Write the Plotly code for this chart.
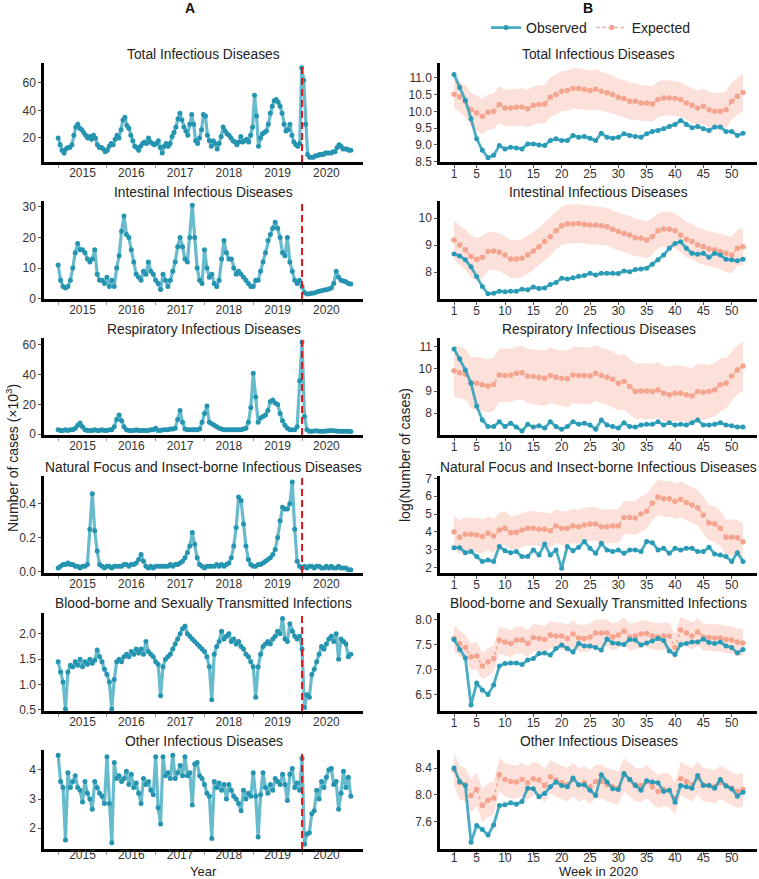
import numpy as np
import plotly.graph_objects as go

# ---------------- DATA ----------------
panel_titles = ["Total Infectious Diseases", "Intestinal Infectious Diseases",
                "Respiratory Infectious Diseases", "Natural Focus and Insect-borne Infectious Diseases",
                "Blood-borne and Sexually Transmitted Infections", "Other Infectious Diseases"]

year_labels = [2015, 2016, 2017, 2018, 2019, 2020]
series_start, series_end = 2014.5, 2020.5
intervention = 2019.5

# Panel A: number of cases (x10^3), evenly spaced through the period
total_cases = [20, 15, 11, 9, 12, 13, 13, 15, 22, 28,
               30, 27, 26, 24, 22, 20, 21, 19, 22, 20,
               15, 13, 13, 12, 10, 11, 14, 16, 15, 19,
               22, 20, 26, 33, 35, 29, 27, 22, 18, 14,
               13, 11, 14, 16, 17, 16, 20, 17, 16, 15,
               16, 18, 13, 9, 14, 16, 14, 16, 21, 24,
               28, 34, 38, 33, 28, 25, 22, 30, 37, 30,
               18, 16, 20, 26, 37, 36, 22, 18, 14, 18,
               16, 12, 16, 21, 28, 25, 23, 22, 20, 18,
               17, 15, 17, 21, 17, 18, 19, 17, 22, 28,
               51, 36, 14, 20, 23, 24, 25, 30, 38, 43,
               47, 48, 46, 43, 38, 30, 25, 26, 30, 22,
               17, 15, 14, 16, 71, 62, 30, 8, 6, 6,
               6, 7, 7, 8, 8, 8, 9, 9, 9, 9,
               10, 10, 13, 15, 14, 12, 12, 12, 11, 11]
intestinal_cases = [11, 6, 4, 3.5, 4, 6, 10, 15, 18, 16,
                    16, 15, 13, 12, 13, 16, 8, 6, 6, 5,
                    7, 4, 6, 4, 10, 14, 22, 27, 21, 20,
                    16, 12, 8, 7, 6, 9, 8, 12, 9, 8,
                    6, 5, 3, 8, 6, 4, 6, 9, 12, 17,
                    20, 17, 13, 12, 20, 30.5, 20, 10, 6, 5,
                    16, 10, 7, 8, 5, 4, 6, 13, 19, 15,
                    13, 13, 10, 8, 9, 8, 7, 6, 5, 4,
                    4, 6, 6, 9, 12, 15, 19, 21, 23, 25,
                    23, 20, 15, 14, 20, 12, 9, 6, 5, 6,
                    4, 2, 1.5, 1.6, 1.8, 1.9, 2.2, 2.4, 2.6, 2.8,
                    2.9, 3.2, 3.5, 5, 9, 7, 6, 5.8, 5.5, 5,
                    4.8]
respiratory_cases = [3, 2.5, 2.5, 3, 2.5, 3, 3, 4, 6, 7.5,
                     5, 3, 2.5, 2.5, 2.5, 3, 2.5, 2.5, 3, 2.5,
                     2.5, 3, 3, 5, 10, 13, 9, 5, 3, 2.5,
                     2.5, 2.5, 3, 2.5, 2.5, 2.5, 2.5, 2.5, 3, 3,
                     4, 2.5, 2.5, 3, 3, 3, 3.5, 3.5, 4, 10,
                     16, 8, 3.5, 3, 3, 3, 3, 3, 3.5, 8,
                     14, 19, 8, 7, 6, 5, 4, 3.5, 3, 3,
                     3, 3, 3, 3, 3, 3, 3.5, 4, 8, 18,
                     41, 25, 8, 11, 12, 13, 16, 22, 23, 21,
                     20, 14, 9, 6, 4, 3, 3, 3, 5, 36,
                     62, 12, 3, 2, 2, 2.2, 2.3, 2, 2.1, 2,
                     2.2, 2.4, 2.5, 2.3, 2.2, 2.1, 2, 2, 2.1, 2,
                     1.8]
natural_cases = [0.02, 0.03, 0.04, 0.04, 0.05, 0.04, 0.04, 0.03, 0.03, 0.02,
                 0.03, 0.03, 0.04, 0.25, 0.46, 0.24, 0.12, 0.04, 0.03, 0.02,
                 0.03, 0.03, 0.02, 0.03, 0.03, 0.03, 0.03, 0.04, 0.04, 0.03,
                 0.04, 0.04, 0.05, 0.07, 0.10, 0.06, 0.03, 0.02, 0.03, 0.02,
                 0.03, 0.03, 0.03, 0.03, 0.03, 0.03, 0.04, 0.03, 0.04, 0.04,
                 0.05, 0.06, 0.08, 0.11, 0.15, 0.23, 0.16, 0.08, 0.04, 0.03,
                 0.02, 0.03, 0.03, 0.03, 0.03, 0.04, 0.03, 0.04, 0.03, 0.04,
                 0.05, 0.08, 0.15, 0.26, 0.44, 0.42, 0.28, 0.15, 0.07, 0.04,
                 0.03, 0.03, 0.04, 0.04, 0.05, 0.06, 0.07, 0.08, 0.10, 0.13,
                 0.20, 0.30, 0.38, 0.37, 0.37, 0.40, 0.53, 0.25, 0.06, 0.03,
                 0.02, 0.03, 0.02, 0.03, 0.03, 0.02, 0.03, 0.03, 0.02, 0.02,
                 0.03, 0.02, 0.03, 0.02, 0.02, 0.03, 0.02, 0.02, 0.02, 0.01,
                 0.01]
blood_cases = [1.45, 1.25, 1.05, 0.52, 1.25, 1.38, 1.35, 1.45, 1.38, 1.5,
               1.35, 1.45, 1.4, 1.5, 1.42, 1.48, 1.68, 1.55, 1.45, 1.3,
               1.2, 1.05, 0.52, 1.1, 1.45, 1.5, 1.45, 1.55, 1.6, 1.55,
               1.65, 1.6, 1.7, 1.62, 1.7, 1.6, 1.85, 1.65, 1.6, 1.55,
               1.45, 1.4, 0.78, 1.35, 1.5, 1.55, 1.6, 1.7, 1.8, 1.9,
               2.0, 2.1, 2.15, 2.0, 1.95, 1.9, 1.85, 1.8, 1.75, 1.7,
               1.65, 1.55, 1.35, 0.7, 1.6, 1.75, 1.85, 2.05, 1.9, 1.95,
               2.0, 1.85, 1.9, 1.8, 1.85, 1.75, 1.7, 1.6, 1.55, 1.45,
               1.35, 0.75, 1.35, 1.6, 1.75, 1.8, 1.85, 1.8, 1.9, 1.95,
               2.05, 2.0, 2.3, 1.9, 1.85, 2.2, 2.05, 1.95, 1.9, 1.95,
               1.7, 0.55, 0.8, 0.75, 1.2, 1.3, 1.45, 1.6, 1.75, 1.7,
               1.8, 1.9, 1.95, 1.85, 2.0, 1.5, 1.9, 1.85, 1.8, 1.55,
               1.6]
other_cases = [4.5, 3.6, 3.4, 1.6, 3.9, 3.4, 3.6, 3.8, 3.4, 3.3,
               2.9, 3.6, 3.2, 3.0, 2.65, 3.6, 3.4, 3.2, 3.1, 2.85,
               4.45, 2.85, 1.5, 4.25, 3.7, 3.8, 3.6, 3.7, 3.95, 3.5,
               3.85, 3.4, 3.55, 3.2, 2.85, 3.7, 3.5, 3.6, 3.3, 3.15,
               4.45, 2.7, 2.15, 4.45, 3.8, 3.9, 3.7, 4.5, 3.7, 3.9,
               4.15, 3.8, 4.45, 3.8, 3.9, 2.8, 4.2, 4.25, 3.8, 3.7,
               3.5, 3.2, 3.1, 1.65, 3.6, 3.4, 3.55, 3.3, 3.5, 3.0,
               3.5, 3.3, 3.1, 3.0, 2.85, 2.6, 3.3, 3.0, 3.2, 3.1,
               3.9, 3.1, 1.7, 3.15, 3.9, 3.4, 3.2, 3.5, 3.3, 3.7,
               3.6, 3.5, 3.85, 3.5, 2.95, 3.85, 4.05, 3.4, 3.55, 3.3,
               4.4, 1.45, 1.8, 1.85, 2.5, 2.6, 3.3, 3.0, 3.6, 3.4,
               3.75, 4.0, 4.05, 3.5, 3.6, 2.65, 3.2, 3.95, 3.4, 3.75,
               3.1]

# Panel B: log(number of cases) by week in 2020
weeks = list(range(1, 53))
total_obs = [11.1, 10.71, 10.33, 9.78, 9.18, 8.84, 8.62, 8.69, 8.98, 8.88,
             8.93, 8.91, 8.88, 9.03, 9.03, 9.0, 8.98, 9.13, 9.18, 9.13,
             9.13, 9.28, 9.23, 9.25, 9.2, 9.13, 9.35, 9.23, 9.2, 9.23,
             9.33, 9.28, 9.25, 9.23, 9.33, 9.4, 9.43, 9.48, 9.55, 9.61,
             9.73, 9.61, 9.51, 9.55, 9.48, 9.43, 9.53, 9.53, 9.4, 9.4,
             9.28, 9.35]
total_exp = [10.51, 10.43, 10.3, 10.05, 9.95, 9.85, 9.97, 10.0, 10.2, 10.1,
             10.1, 10.12, 10.13, 10.08, 10.18, 10.2, 10.22, 10.42, 10.5, 10.6,
             10.62, 10.68, 10.68, 10.65, 10.62, 10.66, 10.6, 10.55, 10.5, 10.42,
             10.38, 10.3, 10.3, 10.25, 10.25, 10.22, 10.35, 10.4, 10.4, 10.38,
             10.35, 10.25, 10.18, 10.1, 10.15, 10.05, 10.0, 10.0, 10.05, 10.3,
             10.45, 10.56]
total_hw = [0.42, 0.45, 0.47, 0.5, 0.52, 0.52, 0.53, 0.53, 0.55, 0.55,
            0.55, 0.55, 0.56, 0.56, 0.57, 0.57, 0.58, 0.58, 0.6, 0.6,
            0.6, 0.6, 0.6, 0.6, 0.6, 0.6, 0.58, 0.58, 0.57, 0.56,
            0.55, 0.55, 0.54, 0.54, 0.53, 0.53, 0.53, 0.53, 0.52, 0.52,
            0.52, 0.52, 0.52, 0.52, 0.53, 0.53, 0.54, 0.55, 0.55, 0.55,
            0.55, 0.55]
intest_obs = [8.68, 8.6, 8.46, 8.2, 7.84, 7.47, 7.2, 7.22, 7.3, 7.28,
              7.3, 7.3, 7.37, 7.35, 7.45, 7.4, 7.42, 7.55, 7.62, 7.78,
              7.75, 7.8, 7.85, 7.88, 7.96, 7.9, 7.96, 7.96, 7.96, 7.95,
              8.05, 8.02, 8.1, 8.12, 8.15, 8.3, 8.46, 8.64, 8.89, 9.07,
              9.13, 8.89, 8.7, 8.67, 8.7, 8.56, 8.7, 8.64, 8.48, 8.46,
              8.43, 8.48]
intest_exp = [9.2, 9.01, 8.83, 8.58, 8.48, 8.56, 8.77, 8.79, 8.74, 8.64,
              8.49, 8.49, 8.52, 8.64, 8.79, 8.95, 9.14, 9.32, 9.54, 9.72,
              9.79, 9.79, 9.81, 9.77, 9.75, 9.74, 9.72, 9.69, 9.59, 9.51,
              9.44, 9.38, 9.28, 9.26, 9.2, 9.32, 9.54, 9.6, 9.59, 9.54,
              9.38, 9.22, 9.14, 9.01, 8.95, 8.86, 8.83, 8.77, 8.7, 8.64,
              8.89, 8.95]
intest_hw = [0.72, 0.72, 0.75, 0.78, 0.8, 0.78, 0.72, 0.7, 0.7, 0.7,
             0.7, 0.7, 0.7, 0.7, 0.7, 0.7, 0.7, 0.7, 0.7, 0.72,
             0.72, 0.72, 0.72, 0.72, 0.72, 0.7, 0.7, 0.7, 0.7, 0.7,
             0.7, 0.7, 0.7, 0.68, 0.68, 0.68, 0.65, 0.65, 0.65, 0.65,
             0.65, 0.65, 0.65, 0.65, 0.65, 0.65, 0.65, 0.65, 0.68, 0.68,
             0.68, 0.68]
resp_obs = [10.9, 10.45, 9.95, 9.35, 8.33, 7.7, 7.4, 7.4, 7.62, 7.4,
            7.55, 7.38, 7.2, 7.5, 7.38, 7.44, 7.33, 7.62, 7.4, 7.28,
            7.4, 7.62, 7.5, 7.55, 7.47, 7.28, 7.7, 7.47, 7.4, 7.33,
            7.57, 7.4, 7.38, 7.47, 7.5, 7.5, 7.62, 7.47, 7.57, 7.47,
            7.5, 7.47, 7.57, 7.7, 7.47, 7.47, 7.5, 7.57, 7.47, 7.44,
            7.38, 7.38]
resp_exp = [9.92, 9.83, 9.76, 9.38, 9.35, 9.28, 9.23, 9.3, 9.72, 9.7,
            9.72, 9.8, 9.83, 9.68, 9.65, 9.62, 9.58, 9.7, 9.62, 9.58,
            9.55, 9.72, 9.7, 9.7, 9.68, 9.8, 9.7, 9.62, 9.53, 9.35,
            9.43, 9.2, 8.98, 9.0, 9.0, 8.98, 9.05, 8.9, 8.83, 8.9,
            8.9, 8.83, 8.78, 8.98, 8.95, 8.98, 9.05, 9.28, 9.35, 9.68,
            9.95, 10.13]
resp_hw = [1.15, 1.15, 1.15, 1.15, 1.2, 1.2, 1.2, 1.2, 1.2, 1.2,
           1.2, 1.2, 1.2, 1.22, 1.22, 1.25, 1.25, 1.25, 1.25, 1.25,
           1.28, 1.28, 1.28, 1.28, 1.28, 1.25, 1.25, 1.25, 1.25, 1.25,
           1.25, 1.25, 1.25, 1.25, 1.25, 1.25, 1.25, 1.25, 1.25, 1.25,
           1.25, 1.25, 1.25, 1.25, 1.25, 1.22, 1.2, 1.2, 1.15, 1.12,
           1.1, 1.1]
nat_obs = [3.12, 3.12, 2.84, 2.9, 2.62, 2.34, 2.43, 2.34, 3.18, 2.95,
           2.84, 2.9, 2.62, 2.62, 2.99, 2.71, 3.32, 2.71, 2.99, 1.96,
           3.18, 2.95, 3.14, 3.46, 3.08, 2.8, 3.36, 2.99, 2.9, 2.99,
           2.8, 2.99, 2.99, 2.9, 3.46, 3.4, 2.99, 3.08, 2.8, 3.08,
           2.99, 3.08, 3.08, 2.9, 2.9, 3.14, 2.76, 2.71, 2.62, 2.34,
           2.84, 2.34]
nat_exp = [4.01, 3.7, 3.87, 3.87, 3.83, 3.74, 3.92, 3.77, 4.11, 4.2,
           3.96, 3.98, 4.11, 4.2, 4.2, 4.15, 4.15, 4.07, 4.33, 4.2,
           4.2, 4.33, 4.29, 4.39, 4.44, 4.44, 4.29, 4.29, 4.33, 4.33,
           4.8, 4.8, 4.78, 5.0, 5.15, 5.6, 5.95, 5.85, 5.85, 5.72,
           5.82, 5.65, 5.5, 5.35, 4.95, 4.5, 4.45, 4.2, 3.7, 3.7,
           3.68, 3.45]
nat_hw = [0.95, 0.95, 0.95, 0.95, 0.95, 0.95, 0.95, 0.95, 0.95, 0.95,
          0.95, 0.95, 0.95, 0.95, 0.95, 0.95, 0.95, 0.95, 0.95, 0.95,
          0.95, 0.95, 0.95, 0.95, 0.95, 0.95, 0.95, 0.95, 0.95, 0.95,
          0.95, 0.95, 0.95, 0.97, 0.97, 0.98, 1.0, 1.0, 1.0, 1.0,
          1.0, 1.0, 1.0, 1.0, 1.0, 1.0, 1.0, 1.0, 1.0, 1.0,
          1.0, 1.0]
blood_obs = [7.6, 7.4, 7.23, 6.29, 6.73, 6.59, 6.5, 6.69, 7.07, 7.12,
             7.13, 7.13, 7.1, 7.19, 7.22, 7.32, 7.33, 7.29, 7.42, 7.49,
             7.42, 7.35, 7.52, 7.47, 7.47, 7.44, 7.39, 7.61, 7.53, 7.52,
             7.5, 7.6, 7.59, 7.49, 7.53, 7.57, 7.62, 7.58, 7.37, 7.3,
             7.5, 7.52, 7.55, 7.55, 7.61, 7.54, 7.52, 7.55, 7.47, 7.44,
             7.33, 7.4]
blood_exp = [7.62, 7.52, 7.44, 7.25, 7.27, 7.07, 7.15, 7.22, 7.59, 7.55,
             7.52, 7.59, 7.59, 7.52, 7.64, 7.62, 7.6, 7.69, 7.67, 7.67,
             7.62, 7.71, 7.63, 7.62, 7.65, 7.73, 7.73, 7.73, 7.65, 7.69,
             7.77, 7.65, 7.67, 7.71, 7.72, 7.67, 7.65, 7.67, 7.67, 7.44,
             7.79, 7.73, 7.67, 7.75, 7.65, 7.64, 7.63, 7.63, 7.6, 7.59,
             7.55, 7.53]
blood_hw = [0.26, 0.26, 0.26, 0.27, 0.27, 0.27, 0.27, 0.27, 0.27, 0.27,
            0.27, 0.27, 0.27, 0.27, 0.27, 0.27, 0.27, 0.27, 0.27, 0.27,
            0.27, 0.27, 0.27, 0.27, 0.27, 0.27, 0.27, 0.27, 0.27, 0.27,
            0.27, 0.27, 0.27, 0.27, 0.27, 0.27, 0.27, 0.27, 0.27, 0.27,
            0.27, 0.27, 0.27, 0.27, 0.27, 0.27, 0.27, 0.27, 0.27, 0.27,
            0.27, 0.27]
other_obs = [8.4, 8.2, 8.14, 7.29, 7.54, 7.48, 7.4, 7.55, 7.84, 7.85,
             7.88, 7.86, 7.9, 8.1, 8.09, 7.97, 8.02, 8.12, 8.19, 8.14,
             8.12, 8.25, 8.15, 8.15, 8.07, 7.99, 8.3, 8.19, 8.09, 8.08,
             8.32, 8.23, 8.14, 8.07, 8.21, 8.19, 8.18, 8.05, 8.07, 7.89,
             8.14, 8.12, 8.1, 8.29, 8.14, 8.14, 8.1, 8.23, 8.13, 8.09,
             7.98, 8.04]
other_exp = [8.38, 8.18, 8.15, 7.99, 8.08, 7.84, 7.92, 7.95, 8.3, 8.23,
             8.2, 8.19, 8.23, 8.18, 8.24, 8.22, 8.14, 8.27, 8.22, 8.18,
             8.15, 8.23, 8.15, 8.18, 8.12, 8.2, 8.2, 8.15, 8.12, 8.1,
             8.3, 8.23, 8.15, 8.14, 8.2, 8.12, 8.05, 8.08, 8.07, 7.94,
             8.24, 8.2, 8.15, 8.25, 8.15, 8.14, 8.12, 8.18, 8.14, 8.1,
             8.05, 8.08]
other_hw = [0.25] * 52

week_ticks = [1, 5, 10, 15, 20, 25, 30, 35, 40, 45, 50]

# ---------------- FIGURE ----------------
W, H = 759, 879
FONT = "Liberation Sans, Arial, sans-serif"
OBS = "#2A9BB6"
OBS_LINE = "rgba(42,157,184,0.85)"
EXP = "#F4A48F"
BAND = "rgba(246,165,145,0.33)"

left_series = [total_cases, intestinal_cases, respiratory_cases, natural_cases, blood_cases, other_cases]
right_series = [(total_obs, total_exp, total_hw), (intest_obs, intest_exp, intest_hw),
                (resp_obs, resp_exp, resp_hw), (nat_obs, nat_exp, nat_hw),
                (blood_obs, blood_exp, blood_hw), (other_obs, other_exp, other_hw)]

rows_px = [(63, 162), (201, 299), (338, 435), (476, 573), (613, 711), (750, 849)]
title_px = [54, 192, 329, 467, 603, 741]
left_dom = [44 / W, 363 / W]
right_dom = [440 / W, 757 / W]

left_ranges = [[2.5, 74.5], [-0.1, 31.9], [-0.5, 64.7], [-0.01, 0.565], [0.48, 2.41], [1.29, 4.68]]
left_ticks = [[20, 40, 60], [0, 10, 20, 30], [0, 20, 40, 60], [0, 0.2, 0.4],
              [0.5, 1.0, 1.5, 2.0], [2, 3, 4]]
left_fmt = ["d", "d", "d", ".1f", ".1f", "d"]
right_ranges = [[8.49, 11.44], [7.01, 10.64], [7.02, 11.39], [1.70, 7.13], [6.17, 8.13], [7.19, 8.67]]
right_ticks = [[8.5, 9.0, 9.5, 10.0, 10.5, 11.0], [8, 9, 10], [8, 9, 10, 11], [2, 3, 4, 5, 6, 7],
               [6.5, 7.0, 7.5, 8.0], [7.6, 8.0, 8.4]]
right_fmt = [".1f", "d", "d", "d", ".1f", ".1f"]

fig = go.Figure()
layout = {}
shapes = []
annotations = []

axis_common = dict(showline=True, linecolor="black", linewidth=2.5, showgrid=False, zeroline=False,
                   automargin=False, ticks="outside", ticklen=3, tickwidth=1, tickcolor="#555",
                   tickfont=dict(size=12, color="#333", family=FONT))
TITLE_FONT = dict(size=13.8, color="#222", family=FONT)


def ax(n):
    return ("x" if n == 1 else f"x{n}"), ("y" if n == 1 else f"y{n}")


def note(text, xpx, ypx, size=14, angle=0, bold=False):
    return dict(text=f"<b>{text}</b>" if bold else text, x=xpx / W, y=1 - ypx / H,
                xref="paper", yref="paper", showarrow=False, xanchor="center", yanchor="middle",
                textangle=angle, font=dict(size=size, color="#111" if bold else "#222", family=FONT))


for r in range(6):
    top, bot = rows_px[r]
    ydom = [1 - bot / H, 1 - top / H]
    last = (r == 5)

    # ---- left panel ----
    n = 2 * r + 1
    xa, ya = ax(n)
    vals = left_series[r]
    xs = np.linspace(series_start, series_end, len(vals))
    fig.add_trace(go.Scatter(x=xs, y=vals, mode="lines+markers", xaxis=xa, yaxis=ya,
                             line=dict(color="rgba(46,160,186,0.72)", width=3.2),
                             marker=dict(size=5, color="#2594B0"),
                             showlegend=False, hoverinfo="skip"))
    layout["xaxis" if n == 1 else f"xaxis{n}"] = dict(
        axis_common, domain=left_dom, anchor=ya, range=[2014.21, 2020.75],
        tickmode="array", tickvals=year_labels, ticktext=[str(v) for v in year_labels], ticks="",
        ticklabelstandoff=-7 if last else -2,
        minor=dict(tickmode="array", tickvals=[y - 0.5 for y in year_labels], ticks="outside",
                   ticklen=3, tickwidth=1, tickcolor="#999"))
    layout["yaxis" if n == 1 else f"yaxis{n}"] = dict(
        axis_common, domain=ydom, anchor=xa, range=left_ranges[r],
        tickmode="array", tickvals=left_ticks[r], tickformat=left_fmt[r])
    shapes.append(dict(type="line", xref=xa, yref=f"{ya} domain", x0=intervention, x1=intervention,
                       y0=0, y1=1, line=dict(color="#E8161B", width=2, dash="7px,4px")))
    annotations.append(dict(text=panel_titles[r], x=(left_dom[0] + left_dom[1]) / 2, y=1 - title_px[r] / H,
                            xref="paper", yref="paper", showarrow=False, xanchor="center", yanchor="middle",
                            font=TITLE_FONT))

    # ---- right panel ----
    n = 2 * r + 2
    xa, ya = ax(n)
    obs, exp, hw = right_series[r]
    exp_a = np.array(exp)
    hw_a = np.array(hw)
    upper = exp_a + hw_a
    lower = exp_a - hw_a
    fig.add_trace(go.Scatter(x=weeks + weeks[::-1], y=list(upper) + list(lower[::-1]),
                             fill="toself", fillcolor=BAND, line=dict(width=0), mode="lines",
                             xaxis=xa, yaxis=ya, showlegend=False, hoverinfo="skip"))
    fig.add_trace(go.Scatter(x=weeks, y=exp, mode="lines+markers", xaxis=xa, yaxis=ya,
                             line=dict(color=EXP, width=1.5, dash="dot"),
                             marker=dict(size=5.5, color=EXP), name="Expected",
                             showlegend=(r == 0), legendrank=2, hoverinfo="skip"))
    fig.add_trace(go.Scatter(x=weeks, y=obs, mode="lines+markers", xaxis=xa, yaxis=ya,
                             line=dict(color=OBS_LINE, width=2.8),
                             marker=dict(size=5, color=OBS), name="Observed",
                             showlegend=(r == 0), legendrank=1, hoverinfo="skip"))
    layout["xaxis" if n == 1 else f"xaxis{n}"] = dict(
        axis_common, domain=right_dom, anchor=ya, range=[-1.47, 54.47],
        tickmode="array", tickvals=week_ticks, ticklabelstandoff=-7 if last else -4)
    layout["yaxis" if n == 1 else f"yaxis{n}"] = dict(
        axis_common, domain=ydom, anchor=xa, range=right_ranges[r],
        tickmode="array", tickvals=right_ticks[r], tickformat=right_fmt[r])
    annotations.append(dict(text=panel_titles[r], x=(right_dom[0] + right_dom[1]) / 2, y=1 - title_px[r] / H,
                            xref="paper", yref="paper", showarrow=False, xanchor="center", yanchor="middle",
                            font=TITLE_FONT))

# panel letters and axis titles
annotations += [
    note("A", 190, 8, size=14, bold=True),
    note("B", 588, 8, size=14, bold=True),
    note("Year", 203.5, 871.5, size=13),
    note("Week in 2020", 598.5, 871.5, size=13),
    note("Number of cases (×10<sup>3</sup>)", 12, 458, angle=-90),
    note("log(Number of cases)", 405, 455, angle=-90),
]

fig.update_layout(
    width=W, height=H, margin=dict(l=0, r=0, t=0, b=0, autoexpand=False),
    paper_bgcolor="white", plot_bgcolor="white",
    font=dict(family=FONT, color="#222"),
    shapes=shapes, annotations=annotations,
    legend=dict(orientation="h", x=591 / W, xanchor="center", y=1 - 28 / H, yanchor="middle",
                font=dict(size=14, color="#222", family=FONT), bgcolor="rgba(0,0,0,0)",
                itemwidth=30, tracegroupgap=0),
    **layout,
)

fig.write_html("out.html", config={"displayModeBar": False},
               post_script="document.body.style.margin='0';")
